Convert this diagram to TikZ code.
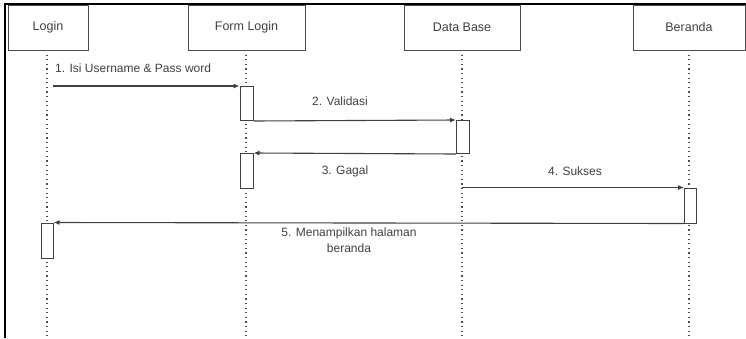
\documentclass[tikz,border=0pt]{standalone}
\usepackage{fontspec}
\setmainfont{Liberation Sans}
\usetikzlibrary{arrows.meta}
\begin{document}
\begin{tikzpicture}[x=1pt,y=-1pt,
  head/.style={draw=black!70, line width=1pt, minimum height=45pt, inner sep=0pt,
    font=\fontsize{12.5}{14}\selectfont, text=black!75},
  life/.style={draw=black!70, line width=1.4pt, dash pattern=on 1.2pt off 3.4pt},
  act/.style={draw=black!75, fill=white, line width=1pt, minimum width=13pt, inner sep=0pt, anchor=north},
  msg/.style={draw=black!75, line width=1.1pt, -{Latex[length=6pt,width=5pt]}},
  lbl/.style={font=\fontsize{12}{16}\selectfont, text=black!75, inner sep=0pt}]
\useasboundingbox (0,0) rectangle (746,338);
% heads
\node[head, minimum width=80pt]  (login) at (48,27.5) {Login};
\node[head, minimum width=117pt] (form)  at (246.5,27.5) {Form Login};
\node[head, minimum width=116pt] (db)    at (462,27.5) {Data Base};
\node[head, minimum width=112pt] (ber)   at (689,27.5) {Beranda};
% lifeline ends
\coordinate (loginbot) at (47,338);
\coordinate (formbot)  at (246,338);
\coordinate (dbbot)    at (462,338);
\coordinate (berbot)   at (689,338);
\draw[life] (47,50) -- (loginbot);
\draw[life] (246,50) -- (formbot);
\draw[life] (462,50) -- (dbbot);
\draw[life] (689,50) -- (berbot);
% activations
\node[act, minimum height=34pt] (a1) at (246.5,86) {};
\node[act, minimum height=33pt] (a2) at (463,120) {};
\node[act, minimum height=35pt] (a3) at (246.5,153) {};
\node[act, minimum width=12pt, minimum height=35pt] (a4) at (690.5,187.5) {};
\node[act, minimum width=12pt, minimum height=35pt] (a5) at (47,222.5) {};
% messages
\coordinate (m1s) at (53,86);
\coordinate (m4s) at (462,187.5);
\draw[msg] (m1s) -- (a1.north west);
\draw[msg] (a1.south east) -- (a2.north west);
\draw[msg] (a2.south west) -- (a3.north east);
\draw[msg] (m4s) -- (a4.north west);
\draw[msg] (a4.south west) -- (a5.north east);
% labels
\node[lbl, anchor=west] (l1) at (55,68) {1. Isi Username \& Pass word};
\node[lbl] (l2) at (340,101) {2. Validasi};
\node[lbl] (l3) at (345,171) {3. Gagal};
\node[lbl] (l4) at (575,171) {4. Sukses};
\node[lbl, align=center] (l5) at (349,240) {5. Menampilkan halaman\\beranda};
% frame
\draw[line width=2pt] (5,338) -- (5,4) -- (746,4);
\end{tikzpicture}
\end{document}
